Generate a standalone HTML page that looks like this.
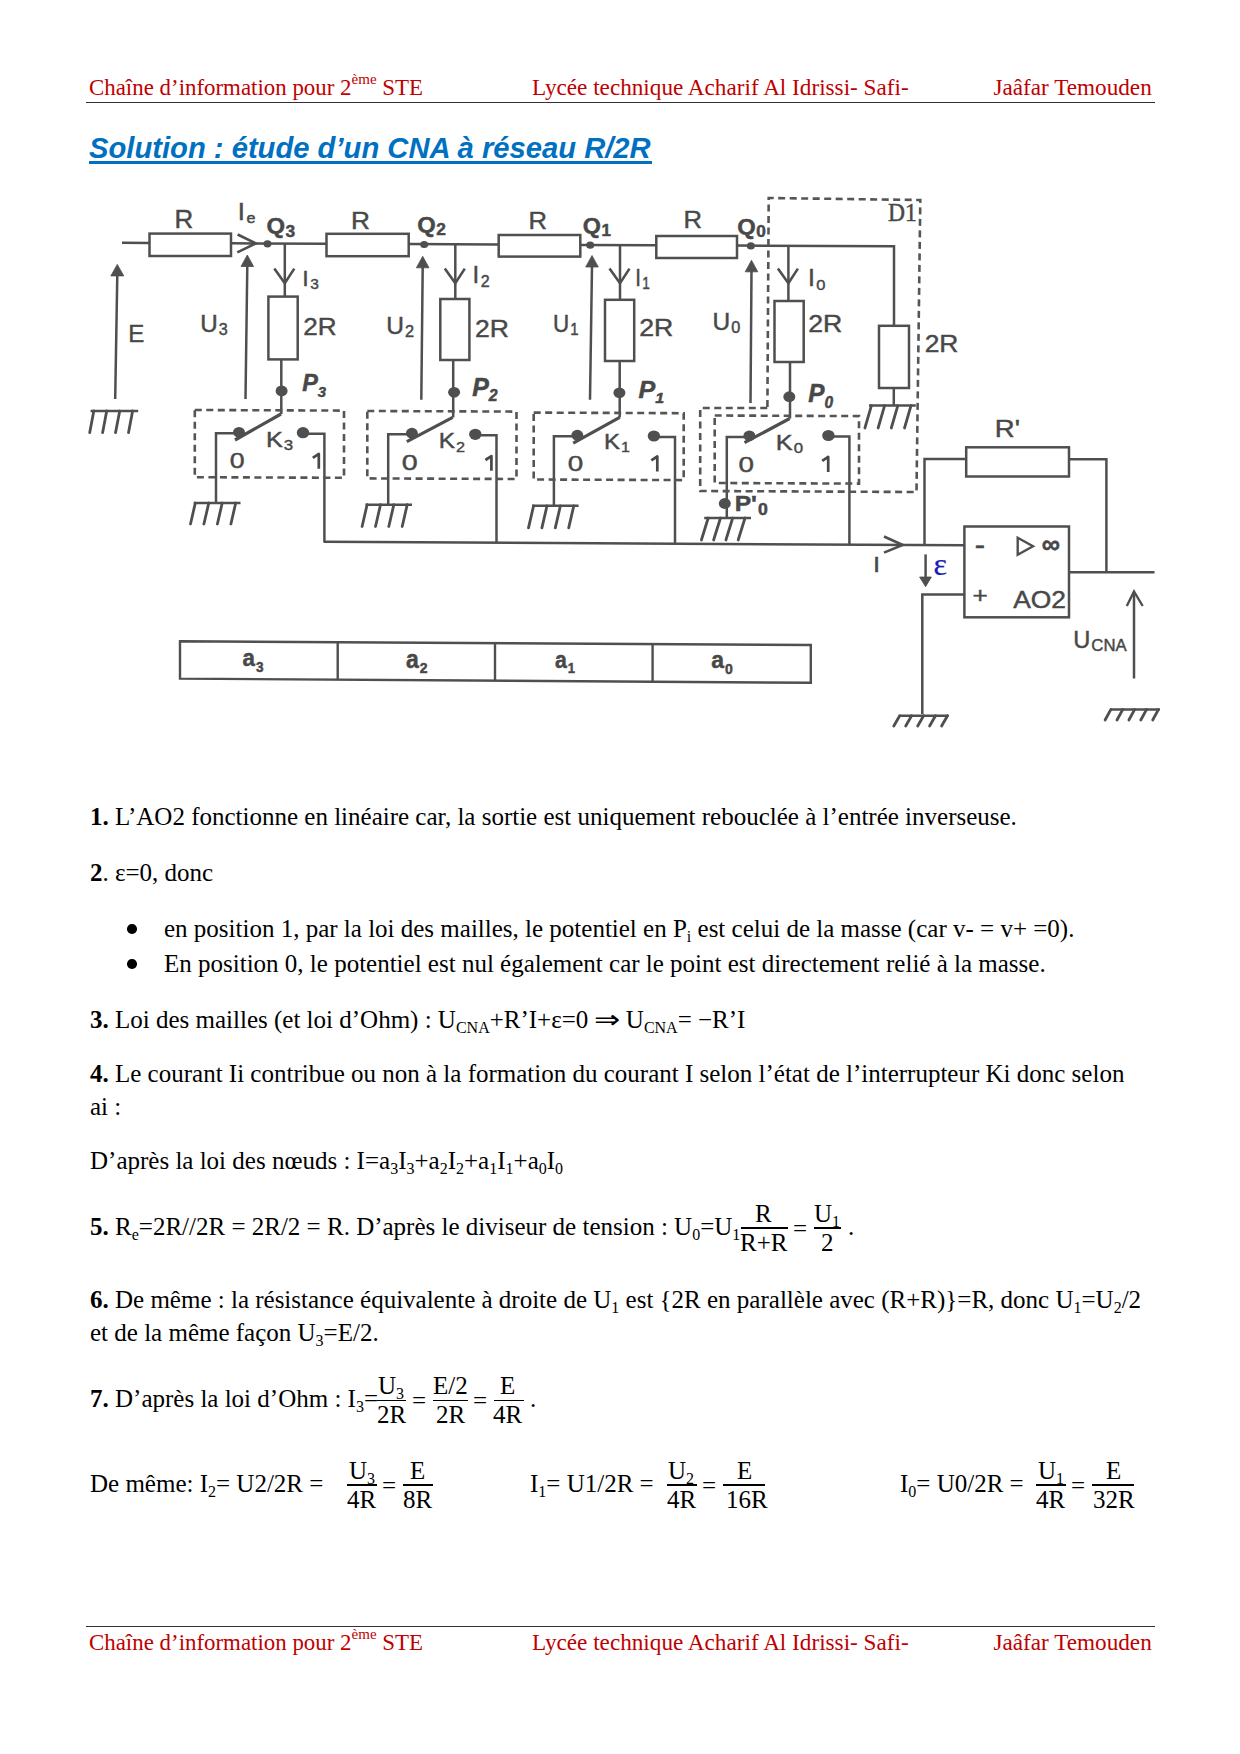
<!DOCTYPE html>
<html><head><meta charset="utf-8">
<style>
html,body{margin:0;padding:0;background:#fff;}
body{width:1240px;height:1754px;position:relative;overflow:hidden;}
.t{position:absolute;white-space:nowrap;font-family:"Liberation Serif",serif;font-size:25px;line-height:25px;color:#000;}
.h{position:absolute;white-space:nowrap;font-family:"Liberation Serif",serif;font-size:23.2px;line-height:23px;color:#c00000;}
.h sup{font-size:15px;vertical-align:0;position:relative;top:-11px;margin-right:0px;}
b{font-weight:bold;}
sub{font-size:16px;vertical-align:0;position:relative;top:5px;}
.rule{position:absolute;height:1.6px;background:#333;}
.title{position:absolute;white-space:nowrap;font-family:"Liberation Sans",sans-serif;font-weight:bold;font-style:italic;font-size:29.2px;line-height:30px;color:#0070c0;}
.bar{position:absolute;height:1.5px;background:#000;}
.bul{position:absolute;width:9.5px;height:9.5px;border-radius:50%;background:#000;}
svg{position:absolute;left:0;top:0;}
</style></head><body>
<!-- header -->
<div class="h" style="left:89px;top:76px;font-size:22.9px">Chaîne d’information pour 2<sup>ème</sup> STE</div>
<div class="h" style="left:532px;top:76px">Lycée technique Acharif Al Idrissi- Safi-</div>
<div class="h" style="left:993.5px;top:76px">Jaâfar Temouden</div>
<div class="rule" style="left:86px;top:101.8px;width:1069px"></div>

<div class="title" style="left:89px;top:133px">Solution : étude d’un CNA à réseau R/2R</div>
<div style="position:absolute;left:89px;top:161px;width:563px;height:2.6px;background:#0070c0"></div>

<svg width="1240" height="760" viewBox="0 0 1240 760"><style>text{stroke:#484848;stroke-width:0.45px;}</style>
<line x1="122.0" y1="242.8" x2="149.5" y2="242.9" stroke="#4f4f4f" stroke-width="2.5" />
<rect x="149.5" y="233.6" width="81.5" height="22.4" fill="none" stroke="#4f4f4f" stroke-width="2.5" />
<line x1="231.0" y1="243.3" x2="326.5" y2="243.7" stroke="#4f4f4f" stroke-width="2.5" />
<rect x="326.5" y="233.8" width="82.2" height="22.4" fill="none" stroke="#4f4f4f" stroke-width="2.5" />
<line x1="408.7" y1="244.1" x2="498.7" y2="244.5" stroke="#4f4f4f" stroke-width="2.5" />
<rect x="498.7" y="235.0" width="81.6" height="21.6" fill="none" stroke="#4f4f4f" stroke-width="2.5" />
<line x1="580.3" y1="244.9" x2="656.3" y2="245.2" stroke="#4f4f4f" stroke-width="2.5" />
<rect x="656.3" y="236.0" width="80.7" height="22.0" fill="none" stroke="#4f4f4f" stroke-width="2.5" />
<polyline points="737.0,245.6 894.0,246.3 894.0,325.8" fill="none" stroke="#4f4f4f" stroke-width="2.5" />
<polyline points="237.6,234.5 255.8,243.4 237.3,252.3" fill="none" stroke="#4f4f4f" stroke-width="2.6" />
<ellipse cx="267.5" cy="243.8" rx="4.0" ry="3.6" fill="#4f4f4f"/>
<ellipse cx="424.2" cy="244.5" rx="4.0" ry="3.6" fill="#4f4f4f"/>
<ellipse cx="590.2" cy="245.2" rx="4.0" ry="3.6" fill="#4f4f4f"/>
<ellipse cx="750.8" cy="245.9" rx="4.0" ry="3.6" fill="#4f4f4f"/>
<line x1="284.8" y1="243.5" x2="284.8" y2="296.6" stroke="#4f4f4f" stroke-width="2.5" />
<rect x="268.4" y="296.6" width="29.3" height="62.8" fill="none" stroke="#4f4f4f" stroke-width="2.5" />
<polyline points="274.3,268.4 284.8,283.2 294.3,268.6" fill="none" stroke="#4f4f4f" stroke-width="2.6" />
<line x1="455.3" y1="244.3" x2="455.3" y2="299.0" stroke="#4f4f4f" stroke-width="2.5" />
<rect x="440.3" y="299.0" width="29.1" height="61.0" fill="none" stroke="#4f4f4f" stroke-width="2.5" />
<polyline points="444.8,268.4 455.3,283.2 464.8,268.6" fill="none" stroke="#4f4f4f" stroke-width="2.6" />
<line x1="620.0" y1="245.0" x2="620.0" y2="299.8" stroke="#4f4f4f" stroke-width="2.5" />
<rect x="605.0" y="299.8" width="29.2" height="61.2" fill="none" stroke="#4f4f4f" stroke-width="2.5" />
<polyline points="609.5,268.4 620.0,283.2 629.5,268.6" fill="none" stroke="#4f4f4f" stroke-width="2.6" />
<line x1="788.4" y1="245.8" x2="788.4" y2="301.0" stroke="#4f4f4f" stroke-width="2.5" />
<rect x="774.5" y="301.0" width="29.2" height="61.0" fill="none" stroke="#4f4f4f" stroke-width="2.5" />
<polyline points="777.9,268.4 788.4,283.2 797.9,268.6" fill="none" stroke="#4f4f4f" stroke-width="2.6" />
<rect x="879.0" y="325.8" width="30.0" height="62.2" fill="none" stroke="#4f4f4f" stroke-width="2.5" />
<line x1="893.8" y1="388.0" x2="893.8" y2="405.6" stroke="#4f4f4f" stroke-width="2.5" />
<line x1="117.3" y1="274.9" x2="115.2" y2="398.9" stroke="#4f4f4f" stroke-width="2.5" />
<polygon points="117.3,264.4 110.8,275.9 123.8,275.9" fill="#4f4f4f" stroke="#4f4f4f" stroke-width="0.8" />
<line x1="247.3" y1="265.5" x2="245.5" y2="398.9" stroke="#4f4f4f" stroke-width="2.5" />
<polygon points="247.3,255.0 241.0,266.5 253.6,266.5" fill="#4f4f4f" stroke="#4f4f4f" stroke-width="0.8" />
<line x1="422.7" y1="266.8" x2="421.3" y2="399.7" stroke="#4f4f4f" stroke-width="2.5" />
<polygon points="422.7,256.3 416.4,267.8 429.0,267.8" fill="#4f4f4f" stroke="#4f4f4f" stroke-width="0.8" />
<line x1="592.0" y1="266.0" x2="590.0" y2="399.7" stroke="#4f4f4f" stroke-width="2.5" />
<polygon points="592.0,255.5 585.7,267.0 598.3,267.0" fill="#4f4f4f" stroke="#4f4f4f" stroke-width="0.8" />
<line x1="751.5" y1="270.8" x2="750.5" y2="403.0" stroke="#4f4f4f" stroke-width="2.5" />
<polygon points="751.5,260.3 745.2,271.8 757.8,271.8" fill="#4f4f4f" stroke="#4f4f4f" stroke-width="0.8" />
<line x1="281.3" y1="359.4" x2="281.3" y2="414.0" stroke="#4f4f4f" stroke-width="2.5" />
<ellipse cx="281.6" cy="390.9" rx="6.0" ry="5.4" fill="#4f4f4f"/>
<line x1="453.2" y1="360.0" x2="453.2" y2="417.4" stroke="#4f4f4f" stroke-width="2.5" />
<ellipse cx="454.1" cy="392.3" rx="6.0" ry="5.4" fill="#4f4f4f"/>
<line x1="619.7" y1="361.0" x2="619.7" y2="417.4" stroke="#4f4f4f" stroke-width="2.5" />
<ellipse cx="619.4" cy="392.8" rx="6.0" ry="5.4" fill="#4f4f4f"/>
<line x1="790.0" y1="362.0" x2="790.0" y2="418.5" stroke="#4f4f4f" stroke-width="2.5" />
<ellipse cx="789.3" cy="396.7" rx="6.0" ry="5.4" fill="#4f4f4f"/>
<line x1="281.0" y1="414.0" x2="235.0" y2="440.0" stroke="#4f4f4f" stroke-width="3.2" />
<line x1="452.7" y1="417.4" x2="406.8" y2="441.6" stroke="#4f4f4f" stroke-width="3.2" />
<line x1="619.7" y1="417.4" x2="573.2" y2="443.2" stroke="#4f4f4f" stroke-width="3.2" />
<line x1="789.7" y1="418.5" x2="744.5" y2="442.7" stroke="#4f4f4f" stroke-width="3.2" />
<ellipse cx="239.0" cy="432.3" rx="6.0" ry="5.4" fill="#4f4f4f"/>
<ellipse cx="411.9" cy="433.2" rx="6.0" ry="5.4" fill="#4f4f4f"/>
<ellipse cx="577.3" cy="435.2" rx="6.0" ry="5.4" fill="#4f4f4f"/>
<ellipse cx="749.4" cy="435.8" rx="6.0" ry="5.4" fill="#4f4f4f"/>
<ellipse cx="303.0" cy="432.7" rx="6.2" ry="5.6" fill="#4f4f4f"/>
<ellipse cx="475.3" cy="434.3" rx="6.2" ry="5.6" fill="#4f4f4f"/>
<ellipse cx="653.9" cy="436.0" rx="6.2" ry="5.6" fill="#4f4f4f"/>
<ellipse cx="828.4" cy="435.5" rx="6.2" ry="5.6" fill="#4f4f4f"/>
<polyline points="239.0,433.3 216.0,433.3 216.0,503.0" fill="none" stroke="#4f4f4f" stroke-width="2.5" />
<polyline points="411.9,434.2 388.2,434.2 388.2,504.7" fill="none" stroke="#4f4f4f" stroke-width="2.5" />
<polyline points="577.3,436.2 553.9,436.2 553.9,505.8" fill="none" stroke="#4f4f4f" stroke-width="2.5" />
<polyline points="749.4,437.0 726.8,437.0 726.8,518.0" fill="none" stroke="#4f4f4f" stroke-width="2.5" />
<ellipse cx="724.8" cy="503.5" rx="6.0" ry="5.4" fill="#4f4f4f"/>
<polyline points="303.0,433.7 324.4,433.7 324.4,541.8" fill="none" stroke="#4f4f4f" stroke-width="2.5" />
<polyline points="475.3,435.3 496.5,435.3 496.5,542.7" fill="none" stroke="#4f4f4f" stroke-width="2.5" />
<polyline points="653.9,437.0 675.0,437.0 675.0,543.7" fill="none" stroke="#4f4f4f" stroke-width="2.5" />
<polyline points="828.4,436.5 849.4,436.5 849.4,544.7" fill="none" stroke="#4f4f4f" stroke-width="2.5" />
<line x1="323.5" y1="541.8" x2="964.8" y2="545.3" stroke="#4f4f4f" stroke-width="2.5" />
<polygon points="194.8,410.0 344.0,410.6 344.0,477.8 194.8,477.2" fill="none" stroke="#555" stroke-width="2.6" stroke-dasharray="7 4.5"/>
<polygon points="367.3,411.0 516.5,411.6 516.5,479.0 367.3,478.4" fill="none" stroke="#555" stroke-width="2.6" stroke-dasharray="7 4.5"/>
<polygon points="533.7,412.6 683.7,413.2 683.7,480.1 533.7,479.5" fill="none" stroke="#555" stroke-width="2.6" stroke-dasharray="7 4.5"/>
<polygon points="714.7,415.5 859.0,416.1 859.0,483.6 714.7,483.0" fill="none" stroke="#555" stroke-width="2.6" stroke-dasharray="7 4.5"/>
<line x1="90.6" y1="411.0" x2="138.2" y2="411.0" stroke="#4f4f4f" stroke-width="2.5" />
<line x1="93.8" y1="411.0" x2="89.7" y2="432.7" stroke="#4f4f4f" stroke-width="2.8" stroke-linecap="round"/>
<line x1="106.7" y1="411.0" x2="102.6" y2="432.7" stroke="#4f4f4f" stroke-width="2.8" stroke-linecap="round"/>
<line x1="119.7" y1="411.0" x2="115.5" y2="432.7" stroke="#4f4f4f" stroke-width="2.8" stroke-linecap="round"/>
<line x1="132.6" y1="411.0" x2="128.5" y2="432.7" stroke="#4f4f4f" stroke-width="2.8" stroke-linecap="round"/>
<line x1="193.7" y1="503.0" x2="240.5" y2="503.0" stroke="#4f4f4f" stroke-width="2.5" />
<line x1="195.3" y1="503.0" x2="190.5" y2="524.0" stroke="#4f4f4f" stroke-width="2.8" stroke-linecap="round"/>
<line x1="208.8" y1="503.0" x2="203.9" y2="524.0" stroke="#4f4f4f" stroke-width="2.8" stroke-linecap="round"/>
<line x1="222.2" y1="503.0" x2="217.4" y2="524.0" stroke="#4f4f4f" stroke-width="2.8" stroke-linecap="round"/>
<line x1="235.7" y1="503.0" x2="230.9" y2="524.0" stroke="#4f4f4f" stroke-width="2.8" stroke-linecap="round"/>
<line x1="365.5" y1="504.7" x2="412.0" y2="504.7" stroke="#4f4f4f" stroke-width="2.5" />
<line x1="367.1" y1="504.7" x2="362.1" y2="526.5" stroke="#4f4f4f" stroke-width="2.8" stroke-linecap="round"/>
<line x1="380.5" y1="504.7" x2="375.5" y2="526.5" stroke="#4f4f4f" stroke-width="2.8" stroke-linecap="round"/>
<line x1="393.8" y1="504.7" x2="388.8" y2="526.5" stroke="#4f4f4f" stroke-width="2.8" stroke-linecap="round"/>
<line x1="407.2" y1="504.7" x2="402.2" y2="526.5" stroke="#4f4f4f" stroke-width="2.8" stroke-linecap="round"/>
<line x1="532.0" y1="505.8" x2="578.6" y2="505.8" stroke="#4f4f4f" stroke-width="2.5" />
<line x1="533.6" y1="505.8" x2="528.5" y2="527.9" stroke="#4f4f4f" stroke-width="2.8" stroke-linecap="round"/>
<line x1="547.0" y1="505.8" x2="541.9" y2="527.9" stroke="#4f4f4f" stroke-width="2.8" stroke-linecap="round"/>
<line x1="560.4" y1="505.8" x2="555.3" y2="527.9" stroke="#4f4f4f" stroke-width="2.8" stroke-linecap="round"/>
<line x1="573.8" y1="505.8" x2="568.7" y2="527.9" stroke="#4f4f4f" stroke-width="2.8" stroke-linecap="round"/>
<line x1="704.2" y1="518.0" x2="751.0" y2="518.0" stroke="#4f4f4f" stroke-width="2.5" />
<line x1="708.2" y1="518.0" x2="701.4" y2="540.0" stroke="#4f4f4f" stroke-width="2.8" stroke-linecap="round"/>
<line x1="720.5" y1="518.0" x2="713.6" y2="540.0" stroke="#4f4f4f" stroke-width="2.8" stroke-linecap="round"/>
<line x1="732.7" y1="518.0" x2="725.9" y2="540.0" stroke="#4f4f4f" stroke-width="2.8" stroke-linecap="round"/>
<line x1="745.0" y1="518.0" x2="738.2" y2="540.0" stroke="#4f4f4f" stroke-width="2.8" stroke-linecap="round"/>
<line x1="869.0" y1="405.6" x2="915.8" y2="405.6" stroke="#4f4f4f" stroke-width="2.5" />
<line x1="871.4" y1="405.6" x2="864.9" y2="428.0" stroke="#4f4f4f" stroke-width="2.8" stroke-linecap="round"/>
<line x1="884.6" y1="405.6" x2="878.1" y2="428.0" stroke="#4f4f4f" stroke-width="2.8" stroke-linecap="round"/>
<line x1="897.8" y1="405.6" x2="891.3" y2="428.0" stroke="#4f4f4f" stroke-width="2.8" stroke-linecap="round"/>
<line x1="911.0" y1="405.6" x2="904.5" y2="428.0" stroke="#4f4f4f" stroke-width="2.8" stroke-linecap="round"/>
<line x1="899.4" y1="715.8" x2="948.5" y2="715.8" stroke="#4f4f4f" stroke-width="2.5" />
<line x1="899.7" y1="715.8" x2="893.8" y2="726.0" stroke="#4f4f4f" stroke-width="2.8" stroke-linecap="round"/>
<line x1="911.6" y1="715.8" x2="905.7" y2="726.0" stroke="#4f4f4f" stroke-width="2.8" stroke-linecap="round"/>
<line x1="923.6" y1="715.8" x2="917.7" y2="726.0" stroke="#4f4f4f" stroke-width="2.8" stroke-linecap="round"/>
<line x1="935.5" y1="715.8" x2="929.6" y2="726.0" stroke="#4f4f4f" stroke-width="2.8" stroke-linecap="round"/>
<line x1="947.5" y1="715.8" x2="941.6" y2="726.0" stroke="#4f4f4f" stroke-width="2.8" stroke-linecap="round"/>
<line x1="1110.6" y1="709.4" x2="1159.8" y2="709.4" stroke="#4f4f4f" stroke-width="2.5" />
<line x1="1110.9" y1="709.4" x2="1105.1" y2="720.0" stroke="#4f4f4f" stroke-width="2.8" stroke-linecap="round"/>
<line x1="1122.8" y1="709.4" x2="1117.0" y2="720.0" stroke="#4f4f4f" stroke-width="2.8" stroke-linecap="round"/>
<line x1="1134.7" y1="709.4" x2="1128.9" y2="720.0" stroke="#4f4f4f" stroke-width="2.8" stroke-linecap="round"/>
<line x1="1146.6" y1="709.4" x2="1140.8" y2="720.0" stroke="#4f4f4f" stroke-width="2.8" stroke-linecap="round"/>
<line x1="1158.5" y1="709.4" x2="1152.7" y2="720.0" stroke="#4f4f4f" stroke-width="2.8" stroke-linecap="round"/>
<polyline points="767.4,407.0 768.7,198.0 920.3,200.0 916.5,492.0 700.2,491.0 700.2,408.0 767.4,408.0" fill="none" stroke="#555" stroke-width="2.6" stroke-dasharray="7 4.5"/>
<polyline points="924.5,545.1 924.5,459.0 966.2,459.0" fill="none" stroke="#4f4f4f" stroke-width="2.5" />
<rect x="966.2" y="447.3" width="102.8" height="29.2" fill="none" stroke="#4f4f4f" stroke-width="2.5" />
<polyline points="1069.0,459.3 1106.4,459.3 1106.4,572.3" fill="none" stroke="#4f4f4f" stroke-width="2.5" />
<rect x="964.4" y="526.5" width="104.6" height="90.8" fill="none" stroke="#4f4f4f" stroke-width="2.5" />
<line x1="1069.0" y1="572.2" x2="1154.5" y2="572.2" stroke="#4f4f4f" stroke-width="2.5" />
<polyline points="964.4,594.6 922.3,594.6 922.3,714.0" fill="none" stroke="#4f4f4f" stroke-width="2.5" />
<polyline points="884.0,536.5 902.7,545.0 884.0,552.6" fill="none" stroke="#4f4f4f" stroke-width="2.6" />
<line x1="925.6" y1="554.4" x2="925.6" y2="579.0" stroke="#4f4f4f" stroke-width="2.5" />
<polygon points="925.6,586.7 919.6,577.0 931.4,577.0" fill="#4f4f4f" stroke="#4f4f4f" stroke-width="0.8" />
<polygon points="1017.7,537.7 1033.0,546.3 1017.7,554.8" fill="none" stroke="#4f4f4f" stroke-width="2.4" />
<line x1="1134.0" y1="592.0" x2="1134.0" y2="678.5" stroke="#4f4f4f" stroke-width="2.5" />
<polyline points="1126.8,606.0 1134.0,591.5 1142.7,606.0" fill="none" stroke="#4f4f4f" stroke-width="2.4" />
<polygon points="180.0,641.3 810.8,645.0 810.8,682.8 180.0,678.6" fill="none" stroke="#4f4f4f" stroke-width="2.4" />
<line x1="337.7" y1="642.2" x2="337.7" y2="679.6" stroke="#4f4f4f" stroke-width="2.4" />
<line x1="495.0" y1="643.1" x2="495.0" y2="680.5" stroke="#4f4f4f" stroke-width="2.4" />
<line x1="652.6" y1="644.1" x2="652.6" y2="681.5" stroke="#4f4f4f" stroke-width="2.4" />
<path d="M312.8,457.8 L318.8,453.9 L318.8,468.8" fill="none" stroke="#484848" stroke-width="2.7" stroke-linejoin="round"/>
<path d="M485.4,460.0 L491.4,456.1 L491.4,470.7" fill="none" stroke="#484848" stroke-width="2.7" stroke-linejoin="round"/>
<path d="M651.3,460.4 L657.3,456.5 L657.3,471.6" fill="none" stroke="#484848" stroke-width="2.7" stroke-linejoin="round"/>
<path d="M822.2,460.8 L828.2,456.9 L828.2,472.0" fill="none" stroke="#484848" stroke-width="2.7" stroke-linejoin="round"/>
<text transform="matrix(1.0800 0 0 1.0412 174.54 227.60)" font-family="Liberation Sans" font-weight="normal" font-style="normal" font-size="24" fill="#484848">R</text>
<text transform="matrix(1.0933 0 0 0.9941 350.91 228.70)" font-family="Liberation Sans" font-weight="normal" font-style="normal" font-size="24" fill="#484848">R</text>
<text transform="matrix(1.0667 0 0 0.9647 528.47 228.70)" font-family="Liberation Sans" font-weight="normal" font-style="normal" font-size="24" fill="#484848">R</text>
<text transform="matrix(1.0667 0 0 0.9647 683.47 228.20)" font-family="Liberation Sans" font-weight="normal" font-style="normal" font-size="24" fill="#484848">R</text>
<text transform="matrix(1.1474 0 0 1.0176 994.81 436.60)" font-family="Liberation Sans" font-weight="normal" font-style="normal" font-size="24" fill="#484848">R&#39;</text>
<text transform="matrix(1.0000 0 0 1.0294 128.20 342.00)" font-family="Liberation Sans" font-weight="normal" font-style="normal" font-size="24" fill="#484848">E</text>
<text transform="matrix(1.0077 0 0 1.0200 200.29 332.14)" font-family="Liberation Sans" font-weight="normal" font-style="normal" font-size="24" fill="#484848">U<tspan font-size="16" dy="3" dx="1">3</tspan></text>
<text transform="matrix(1.0231 0 0 1.0150 386.28 334.15)" font-family="Liberation Sans" font-weight="normal" font-style="normal" font-size="24" fill="#484848">U<tspan font-size="16" dy="3" dx="1">2</tspan></text>
<text transform="matrix(0.9346 0 0 0.9900 553.07 332.03)" font-family="Liberation Sans" font-weight="normal" font-style="normal" font-size="24" fill="#484848">U<tspan font-size="16" dy="3" dx="1">1</tspan></text>
<text transform="matrix(1.0192 0 0 0.9850 712.48 330.25)" font-family="Liberation Sans" font-weight="normal" font-style="normal" font-size="24" fill="#484848">U<tspan font-size="16" dy="3" dx="1">0</tspan></text>
<text transform="matrix(1.0714 0 0 0.9900 237.86 219.83)" font-family="Liberation Sans" font-weight="normal" font-style="normal" font-size="24" fill="#484848">I<tspan font-size="15" dy="3" dx="1.5">e</tspan></text>
<text transform="matrix(0.9667 0 0 0.9238 302.27 285.70)" font-family="Liberation Sans" font-weight="normal" font-style="normal" font-size="24" fill="#484848">I<tspan font-size="16" dy="3.5" dx="1.5">3</tspan></text>
<text transform="matrix(1.0000 0 0 0.9905 472.50 283.14)" font-family="Liberation Sans" font-weight="normal" font-style="normal" font-size="24" fill="#484848">I<tspan font-size="16" dy="3.5" dx="1.5">2</tspan></text>
<text transform="matrix(0.8533 0 0 0.9905 635.19 285.54)" font-family="Liberation Sans" font-weight="normal" font-style="normal" font-size="24" fill="#484848">I<tspan font-size="16" dy="3.5" dx="1.5">1</tspan></text>
<text transform="matrix(1.0333 0 0 0.9667 807.93 286.13)" font-family="Liberation Sans" font-weight="normal" font-style="normal" font-size="24" fill="#484848">I<tspan font-size="16" dy="3.5" dx="1.5">0</tspan></text>
<text transform="matrix(1.0862 0 0 0.9941 303.31 334.60)" font-family="Liberation Sans" font-weight="normal" font-style="normal" font-size="24" fill="#484848">2R</text>
<text transform="matrix(1.1069 0 0 0.9941 474.89 336.60)" font-family="Liberation Sans" font-weight="normal" font-style="normal" font-size="24" fill="#484848">2R</text>
<text transform="matrix(1.1103 0 0 0.9941 639.29 336.00)" font-family="Liberation Sans" font-weight="normal" font-style="normal" font-size="24" fill="#484848">2R</text>
<text transform="matrix(1.1103 0 0 0.9941 808.29 331.50)" font-family="Liberation Sans" font-weight="normal" font-style="normal" font-size="24" fill="#484848">2R</text>
<text transform="matrix(1.1000 0 0 1.0059 924.70 352.30)" font-family="Liberation Sans" font-weight="normal" font-style="normal" font-size="24" fill="#484848">2R</text>
<text transform="matrix(1.0542 0 0 0.9524 265.89 446.79)" font-family="Liberation Sans" font-weight="normal" font-style="normal" font-size="24" fill="#484848">K<tspan font-size="16" dy="3.5" dx="1">3</tspan></text>
<text transform="matrix(1.0167 0 0 0.9048 438.67 448.38)" font-family="Liberation Sans" font-weight="normal" font-style="normal" font-size="24" fill="#484848">K<tspan font-size="16" dy="3.5" dx="1">2</tspan></text>
<text transform="matrix(1.0000 0 0 0.9095 604.10 448.86)" font-family="Liberation Sans" font-weight="normal" font-style="normal" font-size="24" fill="#484848">K<tspan font-size="16" dy="3.5" dx="1">1</tspan></text>
<text transform="matrix(1.0542 0 0 0.9048 775.79 450.18)" font-family="Liberation Sans" font-weight="normal" font-style="normal" font-size="24" fill="#484848">K<tspan font-size="16" dy="3.5" dx="1">0</tspan></text>
<text transform="matrix(1.1636 0 0 0.9412 229.64 468.40)" font-family="Liberation Sans" font-weight="normal" font-style="normal" font-size="23" fill="#484848">0</text>
<text transform="matrix(1.2455 0 0 0.9941 401.75 470.30)" font-family="Liberation Sans" font-weight="normal" font-style="normal" font-size="23" fill="#484848">0</text>
<text transform="matrix(1.2091 0 0 0.9353 567.69 471.10)" font-family="Liberation Sans" font-weight="normal" font-style="normal" font-size="23" fill="#484848">0</text>
<text transform="matrix(1.2091 0 0 0.9412 738.59 471.60)" font-family="Liberation Sans" font-weight="normal" font-style="normal" font-size="23" fill="#484848">0</text>
<text transform="matrix(1.0667 0 0 0.9412 873.07 571.90)" font-family="Liberation Sans" font-weight="normal" font-style="normal" font-size="24" fill="#484848">I</text>
<text transform="matrix(1.1000 0 0 1.0000 1013.20 607.70)" font-family="Liberation Sans" font-weight="normal" font-style="normal" font-size="24" fill="#484848">AO2</text>
<text transform="matrix(0.9833 0 0 0.9952 1073.32 647.62)" font-family="Liberation Sans" font-weight="normal" font-style="normal" font-size="24" fill="#484848">U<tspan font-size="17" dy="3.5" dx="1">CNA</tspan></text>
<text transform="matrix(1.0917 0 0 0.9250 972.41 602.65)" font-family="Liberation Sans" font-weight="normal" font-style="normal" font-size="24" fill="#484848">+</text>
<text transform="matrix(1.2833 0 0 1.2000 974.72 554.50)" font-family="Liberation Sans" font-weight="normal" font-style="normal" font-size="24" fill="#484848">-</text>
<text transform="matrix(1.0846 0 0 1.0000 266.42 233.40)" font-family="Liberation Sans" font-weight="bold" font-style="normal" font-size="22" fill="#484848">Q<tspan font-size="16" dy="3.5" dx="0.5">3</tspan></text>
<text transform="matrix(1.0808 0 0 1.0000 417.32 231.60)" font-family="Liberation Sans" font-weight="bold" font-style="normal" font-size="22" fill="#484848">Q<tspan font-size="16" dy="3.5" dx="0.5">2</tspan></text>
<text transform="matrix(1.0615 0 0 1.0000 582.84 232.60)" font-family="Liberation Sans" font-weight="bold" font-style="normal" font-size="22" fill="#484848">Q<tspan font-size="16" dy="3.5" dx="0.5">1</tspan></text>
<text transform="matrix(1.0808 0 0 1.0000 737.32 233.60)" font-family="Liberation Sans" font-weight="bold" font-style="normal" font-size="22" fill="#484848">Q<tspan font-size="16" dy="3.5" dx="0.5">0</tspan></text>
<text transform="matrix(0.9727 0 0 1.0500 242.50 666.35)" font-family="Liberation Sans" font-weight="bold" font-style="normal" font-size="23" fill="#484848">a<tspan font-size="14" dy="5" dx="1">3</tspan></text>
<text transform="matrix(1.0000 0 0 1.0833 406.00 667.58)" font-family="Liberation Sans" font-weight="bold" font-style="normal" font-size="23" fill="#484848">a<tspan font-size="14" dy="5" dx="1">2</tspan></text>
<text transform="matrix(0.9273 0 0 1.0278 555.00 667.66)" font-family="Liberation Sans" font-weight="bold" font-style="normal" font-size="23" fill="#484848">a<tspan font-size="14" dy="5" dx="1">1</tspan></text>
<text transform="matrix(1.0000 0 0 1.0333 711.30 668.43)" font-family="Liberation Sans" font-weight="bold" font-style="normal" font-size="23" fill="#484848">a<tspan font-size="14" dy="5" dx="1">0</tspan></text>
<text transform="matrix(1.1741 0 0 1.0778 734.63 510.89)" font-family="Liberation Sans" font-weight="bold" font-style="normal" font-size="21" fill="#484848">P&#39;<tspan font-size="15" dy="4" dx="1">0</tspan></text>
<text transform="matrix(1.1600 0 0 1.2000 1041.80 552.60)" font-family="Liberation Sans" font-weight="bold" font-style="normal" font-size="22" fill="#484848">∞</text>
<text transform="matrix(1.0652 0 0 1.0700 302.20 391.45)" font-family="Liberation Sans" font-weight="bold" font-style="italic" font-size="22" fill="#484848">P<tspan font-size="14" dy="5" dx="0">3</tspan></text>
<text transform="matrix(1.1304 0 0 1.1400 472.20 395.60)" font-family="Liberation Sans" font-weight="bold" font-style="italic" font-size="22" fill="#484848">P<tspan font-size="14" dy="5" dx="0">2</tspan></text>
<text transform="matrix(1.1409 0 0 1.1000 638.60 397.70)" font-family="Liberation Sans" font-weight="bold" font-style="italic" font-size="22" fill="#484848">P<tspan font-size="14" dy="5" dx="0">1</tspan></text>
<text transform="matrix(1.1043 0 0 1.1300 808.30 402.05)" font-family="Liberation Sans" font-weight="bold" font-style="italic" font-size="22" fill="#484848">P<tspan font-size="14" dy="5" dx="0">0</tspan></text>
<text transform="matrix(1.0222 0 0 1.1000 888.00 221.30)" font-family="Liberation Serif" font-weight="normal" font-style="normal" font-size="23" fill="#484848">D1</text>
<text transform="matrix(1.2300 0 0 1.2000 933.47 574.60)" font-family="Liberation Serif" font-weight="normal" font-style="normal" font-size="26" fill="#1a1ab4" style="stroke:#1a1ab4;stroke-width:0.2px">ε</text>
</svg>

<div class="t" style="left:90px;top:804px"><b>1.</b> L’AO2 fonctionne en linéaire car, la sortie est uniquement rebouclée à l’entrée inverseuse.</div>
<div class="t" style="left:90px;top:860px"><b>2</b>. ε=0, donc</div>
<div class="bul" style="left:127px;top:924px"></div>
<div class="t" style="left:164px;top:916px">en position 1, par la loi des mailles, le potentiel en P<sub>i</sub> est celui de la masse (car v- = v+ =0).</div>
<div class="bul" style="left:127px;top:959px"></div>
<div class="t" style="left:164px;top:951px">En position 0, le potentiel est nul également car le point est directement relié à la masse.</div>
<div class="t" style="left:90px;top:1007px"><b>3.</b> Loi des mailles (et loi d’Ohm) : U<sub>CNA</sub>+R’I+ε=0 <span style="display:inline-block;transform:scaleX(1.25);margin:0 2px">⇒</span> U<sub>CNA</sub>= −R’I</div>
<div class="t" style="left:90px;top:1061px"><b>4.</b> Le courant Ii contribue ou non à la formation du courant I selon l’état de l’interrupteur Ki donc selon</div>
<div class="t" style="left:90px;top:1094px">ai :</div>
<div class="t" style="left:90px;top:1148px">D’après la loi des nœuds : I=a<sub>3</sub>I<sub>3</sub>+a<sub>2</sub>I<sub>2</sub>+a<sub>1</sub>I<sub>1</sub>+a<sub>0</sub>I<sub>0</sub></div>
<div class="t" style="left:90px;top:1214px"><b>5.</b> R<sub>e</sub>=2R//2R = 2R/2 = R. D’après le diviseur de tension : U<sub>0</sub>=U<sub>1</sub></div>
<div class="t" style="left:755px;top:1201px">R</div>
<div class="bar" style="left:740.5px;top:1227px;width:47px"></div>
<div class="t" style="left:740px;top:1230px">R+R</div>
<div class="t" style="left:793px;top:1216px">=</div>
<div class="t" style="left:814px;top:1201px">U<sub>1</sub></div>
<div class="bar" style="left:814px;top:1227px;width:27px"></div>
<div class="t" style="left:821px;top:1230px">2</div>
<div class="t" style="left:848px;top:1214px">.</div>

<div class="t" style="left:90px;top:1287px"><b>6.</b> De même : la résistance équivalente à droite de U<sub>1</sub> est {2R en parallèle avec (R+R)}=R, donc U<sub>1</sub>=U<sub>2</sub>/2</div>
<div class="t" style="left:90px;top:1320px">et de la même façon U<sub>3</sub>=E/2.</div>

<div class="t" style="left:90px;top:1386px"><b>7.</b> D’après la loi d’Ohm : I<sub>3</sub>=</div>
<div class="t" style="left:378px;top:1373px">U<sub>3</sub></div>
<div class="bar" style="left:377px;top:1399.5px;width:29px"></div>
<div class="t" style="left:377px;top:1402px">2R</div>
<div class="t" style="left:412px;top:1388px">=</div>
<div class="t" style="left:433px;top:1373px">E/2</div>
<div class="bar" style="left:433px;top:1399.5px;width:35px"></div>
<div class="t" style="left:436px;top:1402px">2R</div>
<div class="t" style="left:473px;top:1388px">=</div>
<div class="t" style="left:500px;top:1373px">E</div>
<div class="bar" style="left:494px;top:1399.5px;width:30px"></div>
<div class="t" style="left:493px;top:1402px">4R</div>
<div class="t" style="left:530px;top:1386px">.</div>

<div class="t" style="left:90px;top:1471px">De même: I<sub>2</sub>= U2/2R =</div>
<div class="t" style="left:349px;top:1458px">U<sub>3</sub></div>
<div class="bar" style="left:347px;top:1484px;width:30px"></div>
<div class="t" style="left:347px;top:1487px">4R</div>
<div class="t" style="left:382px;top:1473px">=</div>
<div class="t" style="left:410px;top:1458px">E</div>
<div class="bar" style="left:403px;top:1484px;width:30px"></div>
<div class="t" style="left:403px;top:1487px">8R</div>

<div class="t" style="left:530px;top:1471px">I<sub>1</sub>= U1/2R =</div>
<div class="t" style="left:668px;top:1458px">U<sub>2</sub></div>
<div class="bar" style="left:667px;top:1484px;width:30px"></div>
<div class="t" style="left:667px;top:1487px">4R</div>
<div class="t" style="left:702px;top:1473px">=</div>
<div class="t" style="left:737px;top:1458px">E</div>
<div class="bar" style="left:723px;top:1484px;width:42px"></div>
<div class="t" style="left:726px;top:1487px">16R</div>

<div class="t" style="left:900px;top:1471px">I<sub>0</sub>= U0/2R =</div>
<div class="t" style="left:1038px;top:1458px">U<sub>1</sub></div>
<div class="bar" style="left:1036px;top:1484px;width:30px"></div>
<div class="t" style="left:1036px;top:1487px">4R</div>
<div class="t" style="left:1071px;top:1473px">=</div>
<div class="t" style="left:1106px;top:1458px">E</div>
<div class="bar" style="left:1092px;top:1484px;width:42px"></div>
<div class="t" style="left:1093px;top:1487px">32R</div>

<!-- footer -->
<div class="rule" style="left:86px;top:1625.5px;width:1069px"></div>
<div class="h" style="left:89px;top:1631px;font-size:22.9px">Chaîne d’information pour 2<sup>ème</sup> STE</div>
<div class="h" style="left:532px;top:1631px">Lycée technique Acharif Al Idrissi- Safi-</div>
<div class="h" style="left:993.5px;top:1631px">Jaâfar Temouden</div>
</body></html>
